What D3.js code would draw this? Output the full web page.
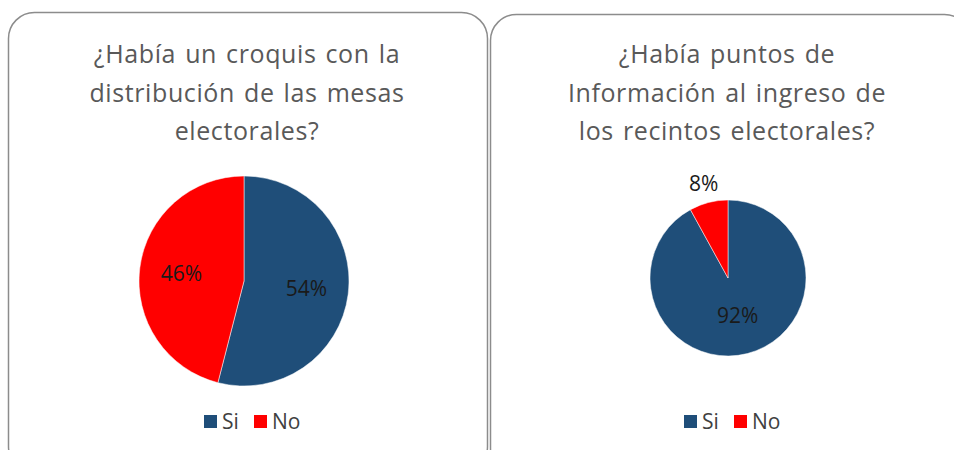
<!DOCTYPE html>
<html lang="es">
<head>
    <meta charset="utf-8">
    <title>Croquis y puntos de información</title>
    <script src="https://d3js.org/d3.v7.min.js"></script>
    <style>
        body { margin: 0; background: #fff; }
        text { font-family: "Open Sans", "Noto Sans", sans-serif; }
    </style>
</head>
<body>
<script>
    var w = 954;
    var h = 450;

    // datos
    var categories = ["Si", "No"];
    var colours = ["#1f4e79", "#ff0000"];
    var titles1 = ["¿Había un croquis con la", "distribución de las mesas", "electorales?"];
    var titles2 = ["¿Había puntos  de", "Información  al ingreso de", "los recintos electorales?"];
    var values1 = [54, 46];
    var values2 = [92, 8];

    var svg = d3.select("body").append("svg")
        .attr("width", w)
        .attr("height", h);

    var colour = d3.scaleOrdinal().domain(categories).range(colours);

    // panel: caja, centro del pastel, radio, inicio de leyenda
    var panels = [
        {x: 8.5, y: 12.5, width: 479, height: 460, tx: 247, cx: 244, cy: 281, r: 105, lr: 0.6, lx: 204, titles: titles1, values: values1},
        {x: 490.5, y: 14.5, width: 480, height: 460, tx: 727, cx: 728, cy: 278, r: 78, lr: 0.5, lx: 684, titles: titles2, values: values2}
    ];

    panels.forEach(function(p) {
        var g = svg.append("g");

        g.append("rect")
            .attr("x", p.x).attr("y", p.y)
            .attr("width", p.width).attr("height", p.height)
            .attr("rx", 26).attr("ry", 26)
            .attr("fill", "#fff")
            .attr("stroke", "#8c8c8c")
            .attr("stroke-width", 1.5);

        g.selectAll("text.title")
            .data(p.titles)
            .enter().append("text")
            .attr("class", "title")
            .attr("x", p.tx)
            .attr("y", function(d, i) { return 63 + i * 38.5; })
            .attr("text-anchor", "middle")
            .attr("fill", "#595959")
            .attr("font-size", 25)
            .attr("letter-spacing", 0.6)
            .attr("word-spacing", 2)
            .text(function(d) { return d; });

        var data = categories.map(function(c, i) { return {cat: c, value: p.values[i]}; });
        var pie = d3.pie().sort(null).value(function(d) { return d.value; });
        var arcs = pie(data);
        var arc = d3.arc().innerRadius(0).outerRadius(p.r);

        var pg = g.append("g").attr("transform", "translate(" + p.cx + "," + p.cy + ")");
        pg.selectAll("path")
            .data(arcs)
            .enter().append("path")
            .attr("d", arc)
            .attr("fill", function(d) { return colour(d.data.cat); })
            .attr("stroke", "#fff")
            .attr("stroke-width", 0.5);

        // etiquetas: dentro del pastel, fuera si la porción es pequeña
        var inside = d3.arc().innerRadius(p.r * p.lr).outerRadius(p.r * p.lr);
        var outside = d3.arc().innerRadius(p.r * 1.25).outerRadius(p.r * 1.25);
        pg.selectAll("text.lbl")
            .data(arcs)
            .enter().append("text")
            .attr("class", "lbl")
            .attr("transform", function(d) {
                var c = d.data.value < 15 ? outside.centroid(d) : inside.centroid(d);
                return "translate(" + c + ")";
            })
            .attr("text-anchor", "middle")
            .attr("dy", "0.36em")
            .attr("fill", "#1a1a1a")
            .attr("font-size", 21)
            .text(function(d) { return d.data.value + "%"; });

        // leyenda
        var lg = g.append("g").attr("transform", "translate(" + p.lx + ",421.5)");
        var item = lg.selectAll("g")
            .data(categories)
            .enter().append("g")
            .attr("transform", function(d, i) { return "translate(" + (i * 50) + ",0)"; });
        item.append("rect")
            .attr("x", 0).attr("y", -6.5)
            .attr("width", 13).attr("height", 13)
            .attr("fill", function(d) { return colour(d); });
        item.append("text")
            .attr("x", 18)
            .attr("dy", "0.36em")
            .attr("font-size", 21)
            .attr("fill", "#404040")
            .text(function(d) { return d; });
    });
</script>
</body>
</html>
